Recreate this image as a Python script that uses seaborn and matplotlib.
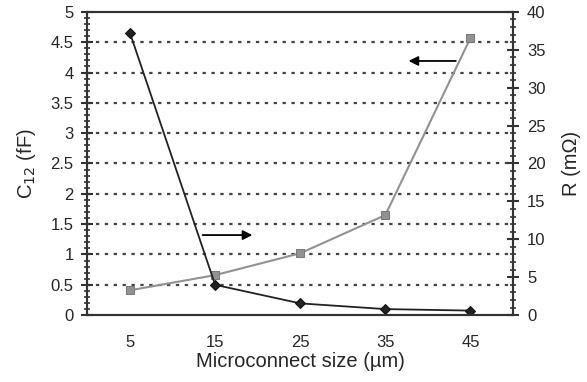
import matplotlib
matplotlib.use("Agg")
import matplotlib.pyplot as plt
import seaborn as sns
from matplotlib.ticker import MultipleLocator, FixedLocator

# microconnect size (um)
sizes = [5, 15, 25, 35, 45]
# coupling capacitance C12 (fF), left axis, grey squares
c12 = [0.41, 0.66, 1.02, 1.65, 4.57]
# resistance R (mOhm), right axis, black diamonds
res = [37.2, 4.0, 1.55, 0.8, 0.6]

sns.set_style("white")
plt.rcParams['font.family'] = ['Liberation Sans', 'DejaVu Sans']

fig = plt.figure(figsize=(5.87, 3.82), dpi=100)
ax = fig.add_axes([0.149, 0.175, 0.725, 0.794])
ax2 = ax.twinx()

sns.lineplot(x=sizes, y=c12, ax=ax, color='#929292', marker='s', markersize=6,
             markeredgecolor='#7a7a7a', linewidth=1.5)
sns.lineplot(x=sizes, y=res, ax=ax2, color='#222222', marker='D', markersize=5,
             markeredgecolor='#111111', linewidth=1.3)

ax.set_xlim(0, 50)
ax.set_ylim(0, 5)
ax2.set_ylim(0, 40)

# dotted horizontal grid
for v in [0.5 * i for i in range(1, 10)]:
    ax.axhline(v, color='#444444', linestyle=(0, (1.5, 2.5)), linewidth=1.6, zorder=0)

ax.yaxis.set_major_locator(MultipleLocator(0.5))
ax.yaxis.set_minor_locator(MultipleLocator(0.1))
ax2.yaxis.set_major_locator(MultipleLocator(5))
ax2.yaxis.set_minor_locator(MultipleLocator(1))
ax.set_yticklabels([f"{v:g}" for v in ax.get_yticks()])

ax.xaxis.set_major_locator(FixedLocator(sizes))
ax.xaxis.set_minor_locator(FixedLocator([10, 20, 30, 40]))
ax.tick_params(axis='x', which='major', length=0, labelsize=12, pad=14)
ax.tick_params(axis='x', which='minor', length=8, width=1.5, direction='inout', color='#333333')
ax.tick_params(axis='y', which='major', length=8, width=1.5, direction='inout', labelsize=12, color='#333333', pad=6)
ax.tick_params(axis='y', which='minor', length=4, width=1.2, direction='inout', color='#333333')
ax2.tick_params(axis='y', which='major', length=8, width=1.5, direction='inout', labelsize=12, color='#333333', pad=6)
ax2.tick_params(axis='y', which='minor', length=4, width=1.2, direction='inout', color='#333333')

for a in (ax, ax2):
    for s in a.spines.values():
        s.set_color('#333333')
        s.set_linewidth(1.5)

ax.set_xlabel("Microconnect size (\u00b5m)", fontsize=14.5, labelpad=2)
ax.set_ylabel("C$_{12}$ (fF)", fontsize=14.5, labelpad=9)
ax2.set_ylabel("R (m\u03a9)", fontsize=14.5, labelpad=12)

# arrows pointing to each series' axis
ax.annotate("", xy=(19.7, 1.32), xytext=(13.2, 1.32),
            arrowprops=dict(arrowstyle='-|>', color='black', lw=1.3, mutation_scale=14))
ax.annotate("", xy=(37.4, 4.19), xytext=(43.6, 4.19),
            arrowprops=dict(arrowstyle='-|>', color='black', lw=1.3, mutation_scale=14))

fig.savefig("out.png", dpi=100)
